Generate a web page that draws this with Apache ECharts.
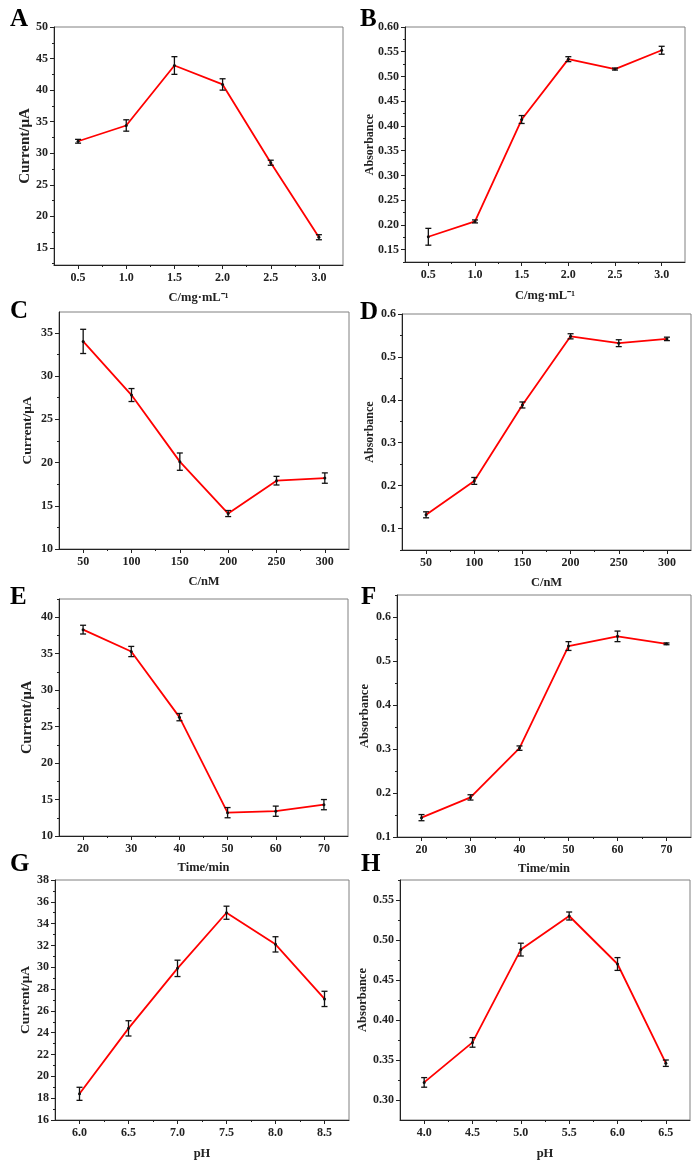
<!DOCTYPE html>
<html>
<head>
<meta charset="utf-8">
<title>Optimization</title>
<script src="https://cdn.jsdelivr.net/npm/echarts@6/dist/echarts.min.js"></script>
<style>
  html, body { margin: 0; padding: 0; background: #fff; }
  #main { width: 698px; height: 1169px; }
</style>
</head>
<body>
<div id="main"></div>
<script type="text/javascript">
// ---- data ----
// A: current vs concentration (mg/mL)
var xA = [0.5, 1.0, 1.5, 2.0, 2.5, 3.0];
var yA = [31.9, 34.4, 43.9, 40.9, 28.5, 16.7];
var eA = [0.3, 0.9, 1.4, 0.9, 0.4, 0.4];
// B: absorbance vs concentration (mg/mL)
var xB = [0.5, 1.0, 1.5, 2.0, 2.5, 3.0];
var yB = [0.176, 0.207, 0.413, 0.535, 0.515, 0.553];
var eB = [0.017, 0.003, 0.008, 0.005, 0.002, 0.008];
// C: current vs concentration (nM)
var xC = [50, 100, 150, 200, 250, 300];
var yC = [34.0, 27.8, 20.1, 14.1, 17.9, 18.2];
var eC = [1.4, 0.75, 1.0, 0.35, 0.5, 0.6];
// D: absorbance vs concentration (nM)
var xD = [50, 100, 150, 200, 250, 300];
var yD = [0.132, 0.211, 0.388, 0.548, 0.532, 0.542];
var eD = [0.007, 0.008, 0.007, 0.006, 0.008, 0.004];
// E: current vs time
var xE = [20, 30, 40, 50, 60, 70];
var yE = [38.3, 35.3, 26.3, 13.2, 13.4, 14.3];
var eE = [0.6, 0.7, 0.5, 0.7, 0.7, 0.7];
// F: absorbance vs time
var xF = [20, 30, 40, 50, 60, 70];
var yF = [0.144, 0.190, 0.302, 0.534, 0.556, 0.539];
var eF = [0.007, 0.006, 0.005, 0.010, 0.012, 0.002];
// G: current vs pH
var xG = [6.0, 6.5, 7.0, 7.5, 8.0, 8.5];
var yG = [18.4, 24.4, 29.9, 35.0, 32.1, 27.1];
var eG = [0.6, 0.7, 0.75, 0.6, 0.7, 0.7];
// H: absorbance vs pH
var xH = [4.0, 4.5, 5.0, 5.5, 6.0, 6.5];
var yH = [0.322, 0.372, 0.488, 0.530, 0.470, 0.346];
var eH = [0.006, 0.006, 0.008, 0.005, 0.008, 0.004];

// tick labels (major) and minor tick positions
var xTicksMg = [0.5, 1.0, 1.5, 2.0, 2.5, 3.0];
var xMinorMg = [0.75, 1.25, 1.75, 2.25, 2.75];
var xTicksNM = [50, 100, 150, 200, 250, 300];
var xMinorNM = [75, 125, 175, 225, 275];
var xTicksMin = [20, 30, 40, 50, 60, 70];
var xMinorMin = [25, 35, 45, 55, 65];
var xTicksPH1 = [6.0, 6.5, 7.0, 7.5, 8.0, 8.5];
var xMinorPH1 = [6.25, 6.75, 7.25, 7.75, 8.25];
var xTicksPH2 = [4.0, 4.5, 5.0, 5.5, 6.0, 6.5];
var xMinorPH2 = [4.25, 4.75, 5.25, 5.75, 6.25];

var yTicksA = [15, 20, 25, 30, 35, 40, 45, 50];
var yMinorA = [12.5, 17.5, 22.5, 27.5, 32.5, 37.5, 42.5, 47.5];
var yTicksB = [0.15, 0.20, 0.25, 0.30, 0.35, 0.40, 0.45, 0.50, 0.55, 0.60];
var yMinorB = [0.125, 0.175, 0.225, 0.275, 0.325, 0.375, 0.425, 0.475, 0.525, 0.575];
var yTicksC = [10, 15, 20, 25, 30, 35];
var yMinorC = [12.5, 17.5, 22.5, 27.5, 32.5, 37.5];
var yTicksD = [0.1, 0.2, 0.3, 0.4, 0.5, 0.6];
var yMinorD = [0.05, 0.15, 0.25, 0.35, 0.45, 0.55];
var yTicksE = [10, 15, 20, 25, 30, 35, 40];
var yMinorE = [12.5, 17.5, 22.5, 27.5, 32.5, 37.5, 42.5];
var yTicksF = [0.1, 0.2, 0.3, 0.4, 0.5, 0.6];
var yMinorF = [0.15, 0.25, 0.35, 0.45, 0.55, 0.65];
var yTicksG = [16, 18, 20, 22, 24, 26, 28, 30, 32, 34, 36, 38];
var yMinorG = [17, 19, 21, 23, 25, 27, 29, 31, 33, 35, 37];
var yTicksH = [0.30, 0.35, 0.40, 0.45, 0.50, 0.55];
var yMinorH = [0.325, 0.375, 0.425, 0.475, 0.525, 0.575];

var FONT = '"Liberation Serif", "Times New Roman", serif';

// panel layout
var panels = [
  { tag: 'A', x: xA, y: yA, e: eA, grid: [54, 27, 289, 238], xr: [0.25, 3.25], yr: [12.3, 50],
    xt: xTicksMg, xm: xMinorMg, yt: yTicksA, ym: yMinorA, xd: 1, yd: 0,
    xn: 'C/mg·mL⁻¹', yn: 'Current/μA', ynSize: 15, ynGap: 21, xnGap: 26 },
  { tag: 'B', x: xB, y: yB, e: eB, grid: [405, 27, 280, 235], xr: [0.25, 3.25], yr: [0.125, 0.60],
    xt: xTicksMg, xm: xMinorMg, yt: yTicksB, ym: yMinorB, xd: 1, yd: 2,
    xn: 'C/mg·mL⁻¹', yn: 'Absorbance', ynSize: 12, ynGap: 29, xnGap: 27 },
  { tag: 'C', x: xC, y: yC, e: eC, grid: [59, 312, 290, 237], xr: [25, 325], yr: [10, 37.4],
    xt: xTicksNM, xm: xMinorNM, yt: yTicksC, ym: yMinorC, xd: 0, yd: 0,
    xn: 'C/nM', yn: 'Current/μA', ynSize: 13.5, ynGap: 24, xnGap: 26 },
  { tag: 'D', x: xD, y: yD, e: eD, grid: [402, 314, 289, 236], xr: [25, 325], yr: [0.05, 0.6],
    xt: xTicksNM, xm: xMinorNM, yt: yTicksD, ym: yMinorD, xd: 0, yd: 1,
    xn: 'C/nM', yn: 'Absorbance', ynSize: 12, ynGap: 26, xnGap: 26 },
  { tag: 'E', x: xE, y: yE, e: eE, grid: [59, 599, 289, 237], xr: [15, 75], yr: [10, 42.5],
    xt: xTicksMin, xm: xMinorMin, yt: yTicksE, ym: yMinorE, xd: 0, yd: 0,
    xn: 'Time/min', yn: 'Current/μA', ynSize: 14.5, ynGap: 24, xnGap: 25 },
  { tag: 'F', x: xF, y: yF, e: eF, grid: [397, 595, 294, 242], xr: [15, 75], yr: [0.1, 0.65],
    xt: xTicksMin, xm: xMinorMin, yt: yTicksF, ym: yMinorF, xd: 0, yd: 1,
    xn: 'Time/min', yn: 'Absorbance', ynSize: 12.5, ynGap: 26, xnGap: 25 },
  { tag: 'G', x: xG, y: yG, e: eG, grid: [55, 880, 294, 240], xr: [5.75, 8.75], yr: [16, 38],
    xt: xTicksPH1, xm: xMinorPH1, yt: yTicksG, ym: yMinorG, xd: 1, yd: 0,
    xn: 'pH', yn: 'Current/μA', ynSize: 13.5, ynGap: 22, xnGap: 27 },
  { tag: 'H', x: xH, y: yH, e: eH, grid: [400, 880, 290, 240], xr: [3.75, 6.75], yr: [0.275, 0.575],
    xt: xTicksPH2, xm: xMinorPH2, yt: yTicksH, ym: yMinorH, xd: 1, yd: 2,
    xn: 'pH', yn: 'Absorbance', ynSize: 12.5, ynGap: 31, xnGap: 27 }
];

// where the panel letters sit
var tagPos = [[10, 7], [360, 7], [10, 299], [360, 300], [10, 585], [361, 585], [10, 852], [361, 852]];

/**
 * error bar: vertical line with caps
 */
function renderErr(params, api) {
  var x = api.value(0), y = api.value(1), e = api.value(2);
  var hi = api.coord([x, y + e]);
  var lo = api.coord([x, y - e]);
  var w = 3;
  var st = { stroke: '#111', lineWidth: 1.3 };
  return {
    type: 'group',
    children: [
      { type: 'line', shape: { x1: hi[0], y1: hi[1], x2: lo[0], y2: lo[1] }, style: st },
      { type: 'line', shape: { x1: hi[0] - w, y1: hi[1], x2: hi[0] + w, y2: hi[1] }, style: st },
      { type: 'line', shape: { x1: lo[0] - w, y1: lo[1], x2: lo[0] + w, y2: lo[1] }, style: st }
    ]
  };
}

function buildOption() {
  var option = {
    backgroundColor: '#fff',
    animation: false,
    title: [], grid: [], xAxis: [], yAxis: [], series: []
  };
  var labelStyle = { fontFamily: FONT, fontWeight: 'bold', fontSize: 12, color: '#222' };

  panels.forEach(function (p, i) {
    option.title.push({
      text: p.tag, left: tagPos[i][0], top: tagPos[i][1], padding: 0,
      textStyle: { fontFamily: FONT, fontWeight: 'bold', fontSize: 25, color: '#000' }
    });
    option.grid.push({
      left: p.grid[0], top: p.grid[1], width: p.grid[2], height: p.grid[3],
      show: true, borderColor: '#808080', borderWidth: 1, backgroundColor: 'transparent'
    });

    var xd = p.xd, yd = p.yd;
    // major x axis
    option.xAxis.push({
      type: 'value', gridIndex: i, position: 'bottom', min: p.xr[0], max: p.xr[1],
      name: p.xn, nameLocation: 'middle', nameGap: p.xnGap,
      nameTextStyle: { fontFamily: FONT, fontWeight: 'bold', fontSize: 12.5, color: '#222' },
      axisLine: { show: true, onZero: false, lineStyle: { color: '#222', width: 1 } },
      axisTick: { show: true, inside: false, length: 4, customValues: p.xt, lineStyle: { color: '#222' } },
      axisLabel: Object.assign({ margin: 7, customValues: p.xt, formatter: function (v) { return v.toFixed(xd); } }, labelStyle),
      splitLine: { show: false }
    });
    // minor x ticks
    option.xAxis.push({
      type: 'value', gridIndex: i, position: 'bottom', offset: 0, min: p.xr[0], max: p.xr[1],
      axisLine: { show: false, onZero: false },
      axisTick: { show: true, inside: false, length: 2, customValues: p.xm, lineStyle: { color: '#222' } },
      axisLabel: { show: false },
      splitLine: { show: false }
    });
    // major y axis
    option.yAxis.push({
      type: 'value', gridIndex: i, position: 'left', min: p.yr[0], max: p.yr[1],
      name: p.yn, nameLocation: 'middle', nameGap: p.ynGap, nameRotate: 90, nameMoveOverlap: false,
      nameTextStyle: { fontFamily: FONT, fontWeight: 'bold', fontSize: p.ynSize, color: '#222' },
      axisLine: { show: true, onZero: false, lineStyle: { color: '#222', width: 1 } },
      axisTick: { show: true, inside: false, length: 4, customValues: p.yt, lineStyle: { color: '#222' } },
      axisLabel: Object.assign({ margin: 6, customValues: p.yt, formatter: function (v) { return v.toFixed(yd); } }, labelStyle),
      splitLine: { show: false }
    });
    // minor y ticks
    option.yAxis.push({
      type: 'value', gridIndex: i, position: 'left', offset: 0, min: p.yr[0], max: p.yr[1],
      axisLine: { show: false, onZero: false },
      axisTick: { show: true, inside: false, length: 2, customValues: p.ym, lineStyle: { color: '#222' } },
      axisLabel: { show: false },
      splitLine: { show: false }
    });

    var pts = p.x.map(function (v, k) { return [v, p.y[k]]; });
    var errs = p.x.map(function (v, k) { return [v, p.y[k], p.e[k]]; });

    option.series.push({
      type: 'line', xAxisIndex: i * 2, yAxisIndex: i * 2, data: pts,
      symbol: 'circle', symbolSize: 3, showSymbol: true,
      lineStyle: { color: '#ff0000', width: 1.8 },
      itemStyle: { color: '#111' }, z: 2
    });
    option.series.push({
      type: 'custom', xAxisIndex: i * 2, yAxisIndex: i * 2, data: errs,
      renderItem: renderErr, encode: { x: 0, y: 1 }, z: 3
    });
  });
  return option;
}

var chart = echarts.init(document.getElementById('main'), null, { renderer: 'canvas' });
chart.setOption(buildOption());
</script>
</body>
</html>
